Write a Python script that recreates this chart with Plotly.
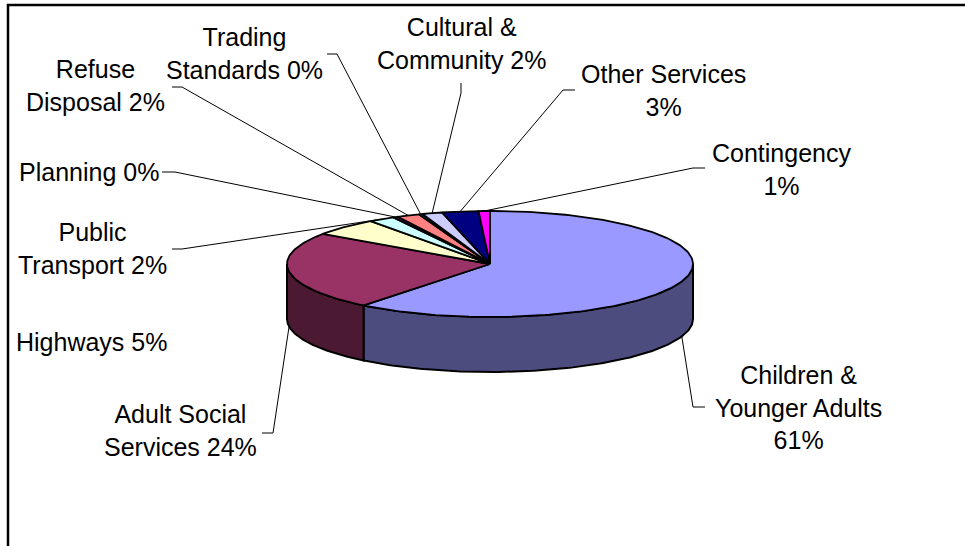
import numpy as np
import plotly.graph_objects as go

# ---- data ----
categories = ["Children &<br>Younger Adults", "Adult Social<br>Services", "Highways",
              "Public<br>Transport", "Planning", "Refuse<br>Disposal", "Trading<br>Standards",
              "Cultural &<br>Community", "Other Services", "Contingency"]
values = [60.7, 23.9, 5.4, 2.1, 0.4, 1.8, 0.3, 1.6, 2.9, 0.9]
pct_sep = ["<br>", " ", " ", " ", " ", " ", " ", " ", "<br>", "<br>"]
top_colors = ["#9999FF", "#993366", "#FFFFCC", "#CCFFFF", "#660066",
              "#FF8080", "#0066CC", "#CCCCFF", "#000080", "#FF00FF"]

# ---- layout of labels (pixel space) ----
label_pos = [(798, 407), (180, 430), (91, 342), (92, 248), (89, 172),
             (95, 85), (244, 53), (462, 43), (663, 90), (781, 169)]
leader_start = [[(705, 407), (693, 407)], [(262, 433), (273, 433)], None,
                [(172, 249), (182, 249)], [(162, 172), (175, 172)],
                [(172, 87), (182, 87)], [(327, 54), (337, 54)],
                [(461, 83), (461, 93)], [(575, 90), (563, 90)],
                [(705, 168), (693, 168)]]

W, H = 965, 546
cx, cy, rx, ry, depth = 490.0, 264.0, 203.0, 53.0, 55.0


def darker(hexc, f=0.5):
    r, g, b = int(hexc[1:3], 16), int(hexc[3:5], 16), int(hexc[5:7], 16)
    return "rgb(%d,%d,%d)" % (r * f, g * f, b * f)


def ex(t):
    return cx + rx * np.sin(t)


def ey(t):
    return cy - ry * np.cos(t)


total = sum(values)
fracs = [v / total for v in values]
bounds = np.concatenate([[0], np.cumsum(fracs)]) * 2 * np.pi

fig = go.Figure()

# side faces (front half: angles between pi/2 and 3pi/2)
for i, c in enumerate(top_colors):
    a0, a1 = bounds[i], bounds[i + 1]
    lo, hi = max(a0, np.pi / 2), min(a1, 3 * np.pi / 2)
    if hi <= lo:
        continue
    t = np.linspace(lo, hi, 120)
    xs = np.concatenate([ex(t), ex(t[::-1])])
    ys = np.concatenate([ey(t), ey(t[::-1]) + depth])
    xs = np.append(xs, xs[0])
    ys = np.append(ys, ys[0])
    fig.add_trace(go.Scatter(x=xs, y=ys, mode="lines", fill="toself",
                             fillcolor=darker(c), line=dict(color="black", width=2),
                             hoverinfo="skip", showlegend=False))

# top faces
for i, c in enumerate(top_colors):
    a0, a1 = bounds[i], bounds[i + 1]
    n = max(3, int(300 * fracs[i]))
    t = np.linspace(a0, a1, n)
    xs = np.concatenate([[cx], ex(t), [cx]])
    ys = np.concatenate([[cy], ey(t), [cy]])
    fig.add_trace(go.Scatter(x=xs, y=ys, mode="lines", fill="toself",
                             fillcolor=c, line=dict(color="black", width=1.8),
                             hoverinfo="skip", showlegend=False))

# leader lines
for i in range(len(values)):
    if leader_start[i] is None:
        continue
    tm = (bounds[i] + bounds[i + 1]) / 2
    px, py = ex(tm), ey(tm)
    if np.cos(tm) < 0:
        py += depth * 0.98
    pts = leader_start[i] + [(px, py)]
    fig.add_trace(go.Scatter(x=[p[0] for p in pts], y=[p[1] for p in pts],
                             mode="lines", line=dict(color="black", width=1),
                             hoverinfo="skip", showlegend=False))

# labels
annotations = []
for i, name in enumerate(categories):
    pct = "%d%%" % round(values[i] / total * 100)
    annotations.append(dict(x=label_pos[i][0], y=label_pos[i][1], xref="x", yref="y",
                            text=name + pct_sep[i] + pct, showarrow=False,
                            xanchor="center", yanchor="middle", align="center",
                            font=dict(family="Liberation Sans, Arial", size=25, color="black")))

fig.update_layout(
    width=W, height=H, margin=dict(l=0, r=0, t=0, b=0),
    paper_bgcolor="white", plot_bgcolor="white",
    xaxis=dict(range=[0, W], visible=False, fixedrange=True),
    yaxis=dict(range=[H, 0], visible=False, fixedrange=True),
    annotations=annotations,
    shapes=[dict(type="rect", xref="x", yref="y", x0=8, y0=5, x1=980, y1=580,
                 line=dict(color="black", width=2.5), layer="above")],
    showlegend=False,
)

fig.write_html("out.html")
